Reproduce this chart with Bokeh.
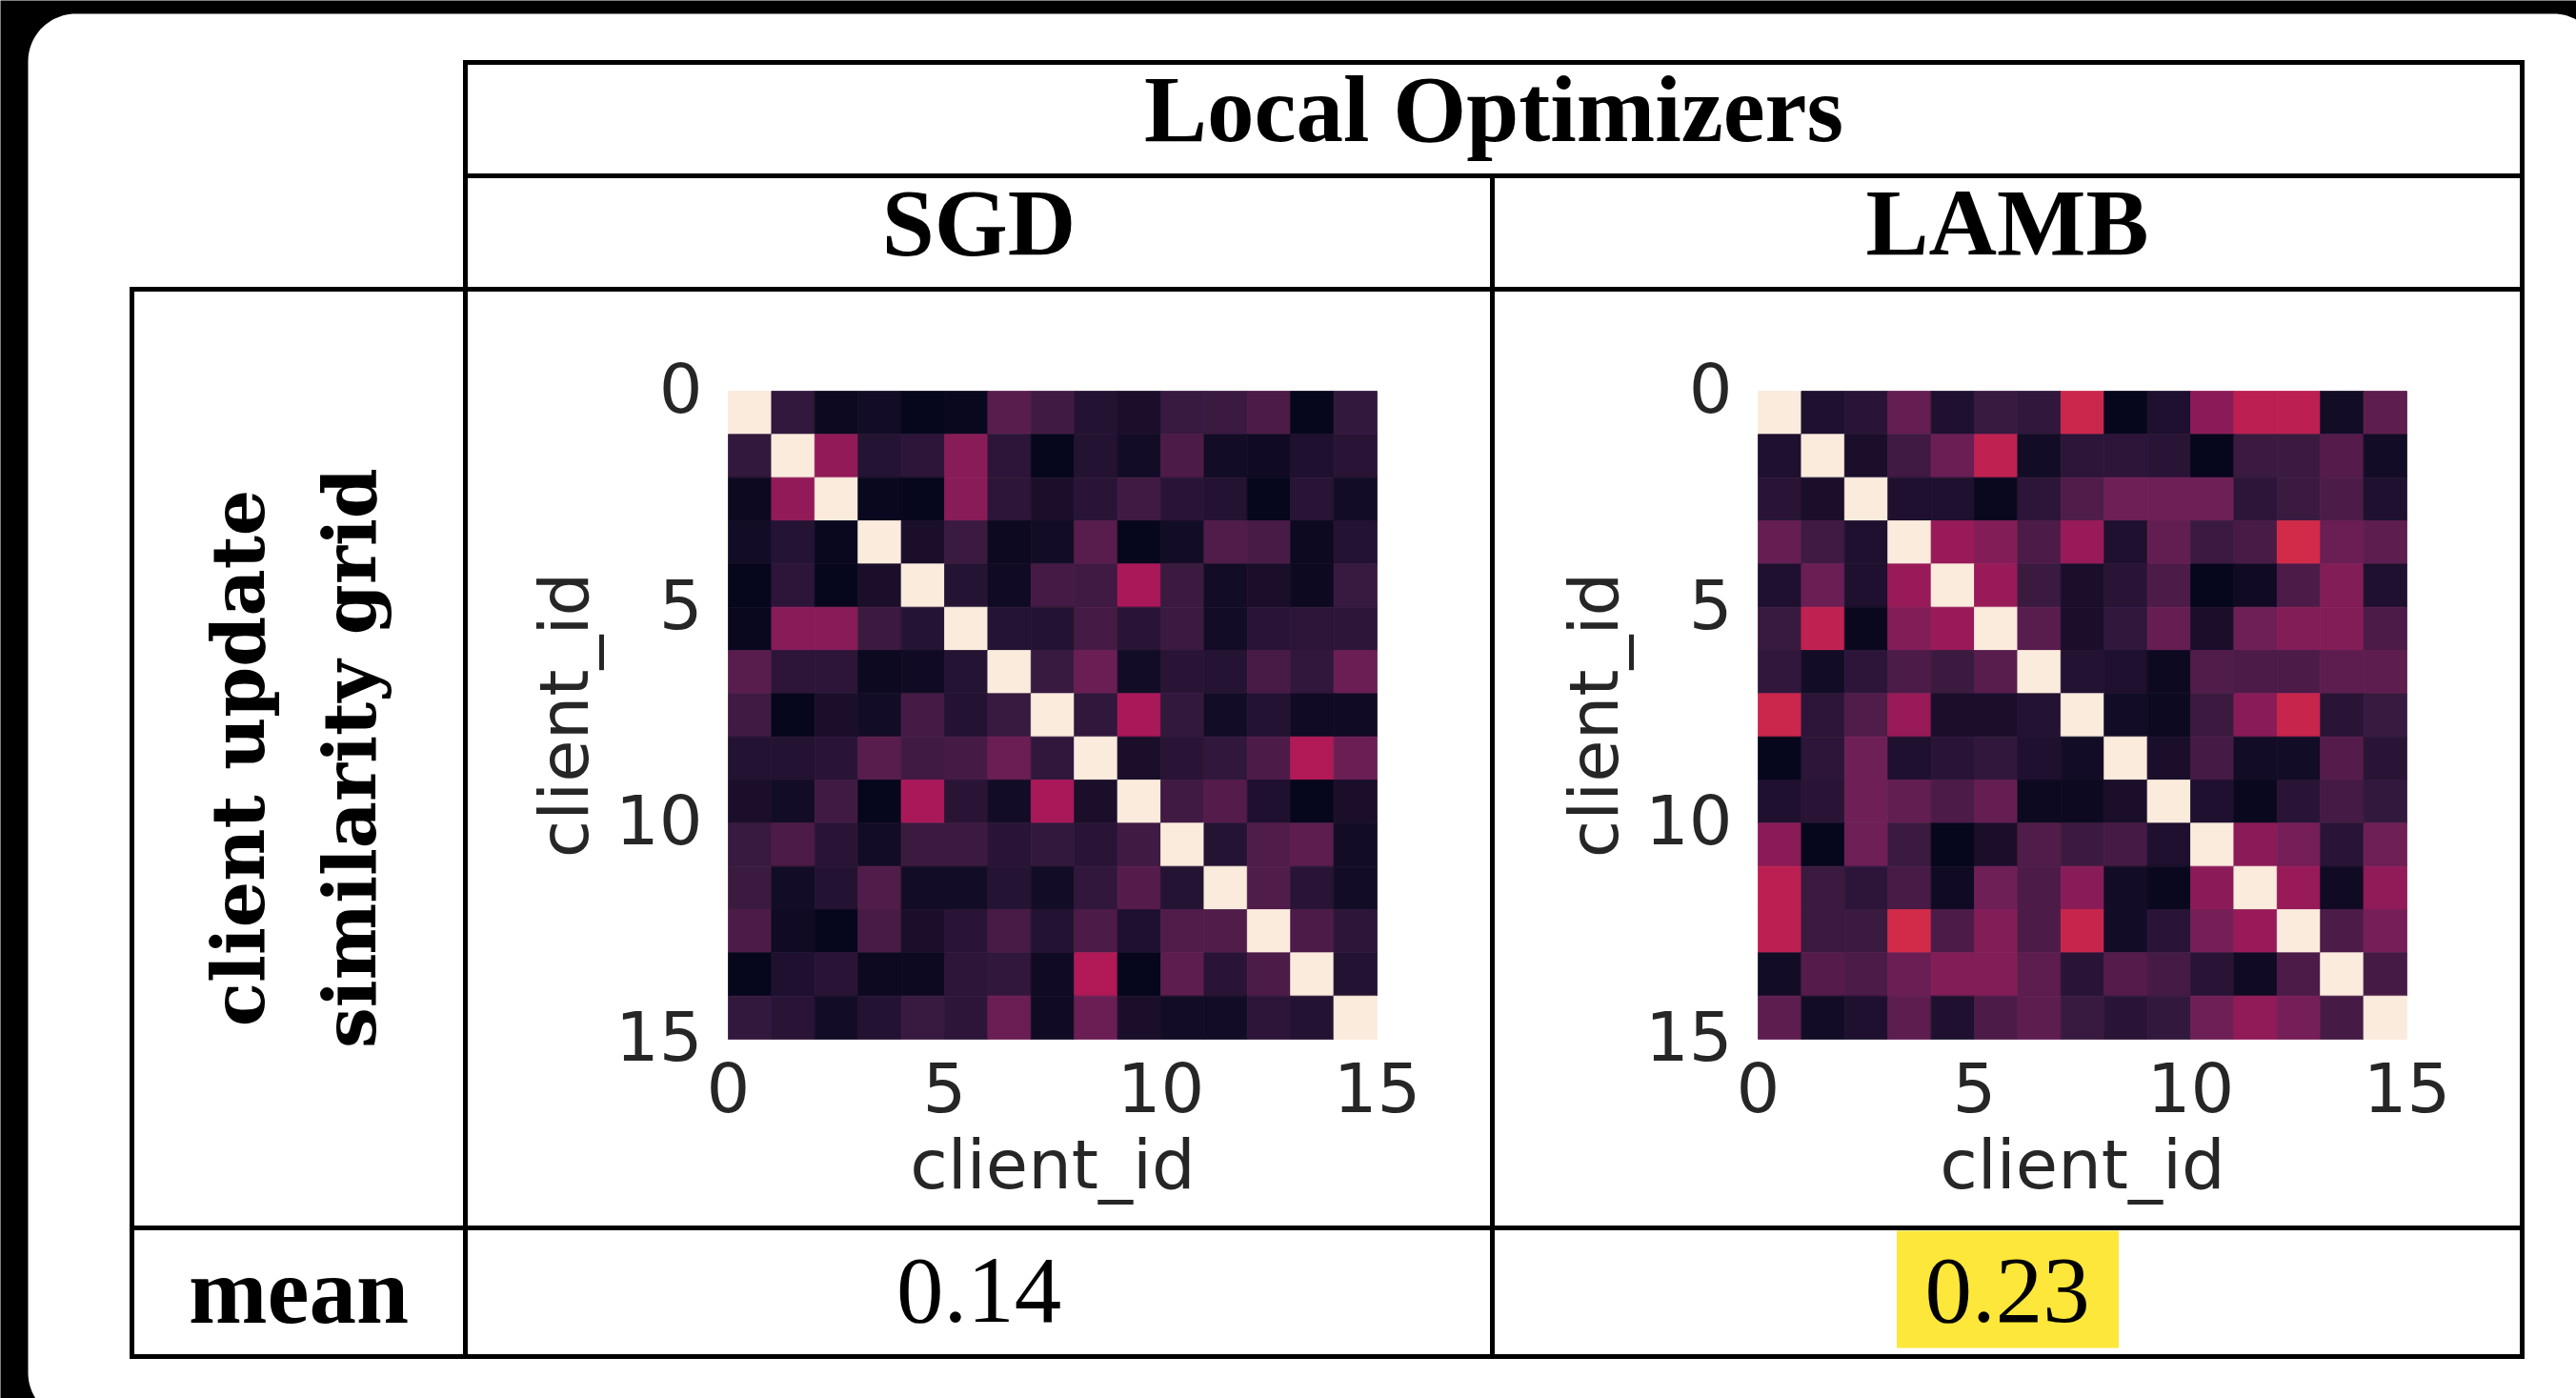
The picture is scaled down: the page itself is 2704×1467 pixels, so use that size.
import numpy as np
from bokeh.plotting import figure
from bokeh.models import Range1d, ColumnDataSource
from bokeh.transform import linear_cmap
from bokeh.core.properties import value
from bokeh.embed import file_html
from bokeh.resources import INLINE

# ---------------------------------------------------------------- data
group_title = "Local Optimizers"
optimizers = ["SGD", "LAMB"]
row_label = ["client update", "similarity grid"]
summary_label = "mean"
mean_labels = ["0.14", "0.23"]
best_mean = [False, True]
axis_label = "client_id"
tick_values = [0, 5, 10, 15]
tick_labels = ["0", "5", "10", "15"]

sgd_similarity = [
    [1.00, 0.14, 0.03, 0.05, 0.01, 0.02, 0.23, 0.17, 0.09, 0.07, 0.15, 0.16, 0.20, 0.01, 0.14],
    [0.14, 1.00, 0.37, 0.10, 0.12, 0.34, 0.12, 0.01, 0.09, 0.05, 0.20, 0.05, 0.04, 0.08, 0.11],
    [0.03, 0.37, 1.00, 0.02, 0.01, 0.34, 0.12, 0.07, 0.11, 0.17, 0.11, 0.09, 0.01, 0.11, 0.05],
    [0.05, 0.10, 0.02, 1.00, 0.07, 0.16, 0.03, 0.05, 0.23, 0.01, 0.05, 0.21, 0.19, 0.03, 0.09],
    [0.01, 0.12, 0.01, 0.07, 1.00, 0.10, 0.04, 0.18, 0.17, 0.42, 0.16, 0.05, 0.07, 0.03, 0.15],
    [0.02, 0.34, 0.34, 0.16, 0.10, 1.00, 0.10, 0.09, 0.18, 0.11, 0.16, 0.05, 0.11, 0.12, 0.12],
    [0.23, 0.12, 0.12, 0.03, 0.04, 0.10, 1.00, 0.15, 0.27, 0.05, 0.11, 0.10, 0.19, 0.13, 0.27],
    [0.17, 0.01, 0.07, 0.05, 0.18, 0.09, 0.15, 1.00, 0.13, 0.42, 0.14, 0.05, 0.09, 0.04, 0.04],
    [0.09, 0.09, 0.11, 0.23, 0.17, 0.18, 0.27, 0.13, 1.00, 0.07, 0.11, 0.13, 0.20, 0.44, 0.27],
    [0.07, 0.05, 0.17, 0.01, 0.42, 0.11, 0.05, 0.42, 0.07, 1.00, 0.17, 0.22, 0.08, 0.01, 0.07],
    [0.15, 0.20, 0.11, 0.05, 0.16, 0.16, 0.11, 0.14, 0.11, 0.17, 1.00, 0.10, 0.21, 0.24, 0.05],
    [0.16, 0.05, 0.09, 0.21, 0.05, 0.05, 0.10, 0.05, 0.13, 0.22, 0.10, 1.00, 0.21, 0.11, 0.05],
    [0.20, 0.04, 0.01, 0.19, 0.07, 0.11, 0.19, 0.09, 0.20, 0.08, 0.21, 0.21, 1.00, 0.20, 0.12],
    [0.01, 0.08, 0.11, 0.03, 0.03, 0.12, 0.13, 0.04, 0.44, 0.01, 0.24, 0.11, 0.20, 1.00, 0.09],
    [0.14, 0.11, 0.05, 0.09, 0.15, 0.12, 0.27, 0.04, 0.27, 0.07, 0.05, 0.05, 0.12, 0.09, 1.00],
]

lamb_similarity = [
    [1.00, 0.08, 0.11, 0.26, 0.08, 0.15, 0.13, 0.51, 0.01, 0.08, 0.35, 0.47, 0.47, 0.05, 0.24],
    [0.08, 1.00, 0.07, 0.17, 0.27, 0.48, 0.05, 0.12, 0.12, 0.11, 0.01, 0.16, 0.16, 0.22, 0.05],
    [0.11, 0.07, 1.00, 0.08, 0.08, 0.02, 0.12, 0.21, 0.28, 0.28, 0.28, 0.12, 0.16, 0.20, 0.08],
    [0.26, 0.17, 0.08, 1.00, 0.38, 0.33, 0.20, 0.38, 0.08, 0.25, 0.16, 0.19, 0.53, 0.27, 0.24],
    [0.08, 0.27, 0.08, 0.38, 1.00, 0.38, 0.16, 0.07, 0.11, 0.20, 0.01, 0.04, 0.20, 0.33, 0.08],
    [0.15, 0.48, 0.02, 0.33, 0.38, 1.00, 0.23, 0.07, 0.13, 0.26, 0.07, 0.28, 0.33, 0.33, 0.20],
    [0.13, 0.05, 0.12, 0.20, 0.16, 0.23, 1.00, 0.09, 0.08, 0.03, 0.21, 0.20, 0.20, 0.24, 0.24],
    [0.51, 0.12, 0.21, 0.38, 0.07, 0.07, 0.09, 1.00, 0.05, 0.03, 0.16, 0.34, 0.50, 0.11, 0.15],
    [0.01, 0.12, 0.28, 0.08, 0.11, 0.13, 0.08, 0.05, 1.00, 0.07, 0.18, 0.05, 0.05, 0.22, 0.11],
    [0.08, 0.11, 0.28, 0.25, 0.20, 0.26, 0.03, 0.03, 0.07, 1.00, 0.08, 0.02, 0.11, 0.18, 0.14],
    [0.35, 0.01, 0.28, 0.16, 0.01, 0.07, 0.21, 0.16, 0.18, 0.08, 1.00, 0.35, 0.30, 0.11, 0.28],
    [0.47, 0.16, 0.12, 0.19, 0.04, 0.28, 0.20, 0.34, 0.05, 0.02, 0.35, 1.00, 0.38, 0.04, 0.36],
    [0.47, 0.16, 0.16, 0.53, 0.20, 0.33, 0.20, 0.50, 0.05, 0.11, 0.30, 0.38, 1.00, 0.20, 0.30],
    [0.05, 0.22, 0.20, 0.27, 0.33, 0.33, 0.24, 0.11, 0.22, 0.18, 0.11, 0.04, 0.20, 1.00, 0.18],
    [0.24, 0.05, 0.08, 0.24, 0.08, 0.20, 0.24, 0.15, 0.11, 0.14, 0.28, 0.36, 0.30, 0.18, 1.00],
]

# ---------------------------------------------------------------- colour map ("rocket")
rocket_stops = [0.0, 1 / 7, 2 / 7, 3 / 7, 4 / 7, 5 / 7, 6 / 7, 1.0]
rocket_hex = ["#03051A", "#35193E", "#701F57", "#AD1759",
              "#E13342", "#F37651", "#F6B48F", "#FAEBDD"]


def build_palette(stops, colors, n=256):
    rgb = np.array([[int(c[i:i + 2], 16) for i in (1, 3, 5)] for c in colors], dtype=float)
    t = np.linspace(0, 1, n)
    chans = [np.interp(t, stops, rgb[:, k]) for k in range(3)]
    return ["#%02x%02x%02x" % tuple(int(round(ch[i])) for ch in chans) for i in range(n)]


rocket = build_palette(rocket_stops, rocket_hex)

# ---------------------------------------------------------------- page geometry (pixels)
W, H = 2704, 1467
col_x = [138, 488, 1566, 2647]          # vertical rules
row_y = [65, 184, 303, 1288, 1423]      # horizontal rules
panel_left = [764, 1845]                # heatmap frames
panel_top = 410
panel_w, panel_h = 681, 680
n_clients = len(sgd_similarity)

p = figure(width=W, height=H, x_range=Range1d(0, W), y_range=Range1d(H, 0),
           output_backend="svg", toolbar_location=None, min_border=0,
           x_axis_location=None, y_axis_location=None,
           background_fill_color="black", border_fill_color="black",
           outline_line_color=None)
p.grid.visible = False


# white card with rounded corners
def rounded_box(x0, y0, x1, y1, r, n=24):
    xs, ys = [], []
    corners = [(x1 - r, y0 + r, -np.pi / 2, 0), (x1 - r, y1 - r, 0, np.pi / 2),
               (x0 + r, y1 - r, np.pi / 2, np.pi), (x0 + r, y0 + r, np.pi, 1.5 * np.pi)]
    for cx, cy, a0, a1 in corners:
        a = np.linspace(a0, a1, n)
        xs.extend(cx + r * np.cos(a))
        ys.extend(cy + r * np.sin(a))
    return xs, ys


cx, cy = rounded_box(29, 14, 2730, 1490, 50)
p.patch(cx, cy, fill_color="white", line_color=None)


# ---------------------------------------------------------------- heatmaps
def pixel_range(px0, span, total, flip=False):
    k = n_clients / span
    if flip:
        return Range1d((total - px0) * k, -px0 * k)
    return Range1d(-px0 * k, (total - px0) * k)


tick_font = value("DejaVu Sans")
tick_style = dict(text_font=tick_font, text_font_size="72px", text_color="#262626")
for idx, (name, mat) in enumerate(zip(optimizers, [sgd_similarity, lamb_similarity])):
    xr, yr = name + "_x", name + "_y"
    p.extra_x_ranges[xr] = pixel_range(panel_left[idx], panel_w, W)
    p.extra_y_ranges[yr] = pixel_range(panel_top, panel_h, H, flip=True)

    m = np.array(mat)
    ii, jj = np.meshgrid(np.arange(n_clients), np.arange(n_clients), indexing="ij")
    src = ColumnDataSource(dict(x=(jj + 0.5).ravel(), y=(ii + 0.5).ravel(), v=m.ravel()))
    cmap = linear_cmap("v", rocket, 0.0, 1.0)
    p.rect(x="x", y="y", width=1, height=1, source=src, fill_color=cmap,
           line_color=cmap, line_width=0.8, x_range_name=xr, y_range_name=yr)

    # tick labels
    p.text(x=tick_values, y=[n_clients] * len(tick_values), text=tick_labels,
           x_range_name=xr, y_range_name=yr, y_offset=50,
           text_align="center", text_baseline="alphabetic", **tick_style)
    p.text(x=[0] * len(tick_values), y=tick_values, text=tick_labels,
           x_range_name=xr, y_range_name=yr, x_offset=-27, y_offset=-4,
           text_align="right", text_baseline="middle", **tick_style)
    # axis titles
    p.text(x=[n_clients / 2], y=[n_clients], text=[axis_label],
           x_range_name=xr, y_range_name=yr, y_offset=131,
           text_align="center", text_baseline="alphabetic", **tick_style)
    p.text(x=[0], y=[n_clients / 2], text=[axis_label], angle=np.pi / 2,
           x_range_name=xr, y_range_name=yr, x_offset=-173,
           text_align="center", text_baseline="alphabetic", **tick_style)

# ---------------------------------------------------------------- table
col_mid = [(col_x[1] + col_x[2]) / 2, (col_x[2] + col_x[3]) / 2]

# highlight behind the best mean
for mid, best in zip(col_mid, best_mean):
    if best:
        p.quad(left=mid - 116, right=mid + 117, top=row_y[3] + 3, bottom=row_y[4] - 9,
               fill_color="#FDE73A", line_color=None)

hx0 = [col_x[1], col_x[1], col_x[0], col_x[0], col_x[0]]
hx1 = [col_x[3]] * 5
vx = [col_x[0], col_x[1], col_x[2], col_x[3]]
vy0 = [row_y[2], row_y[0], row_y[1], row_y[0]]
vy1 = [row_y[4]] * 4
p.segment(x0=hx0 + vx, y0=row_y + vy0, x1=hx1 + vx, y1=row_y + vy1,
          line_color="black", line_width=5, line_cap="square")

serif = value("Liberation Serif")
head_style = dict(text_align="center", text_baseline="alphabetic", text_font=serif,
                  text_font_size="99px", text_color="black")
p.text(x=col_mid, y=[1354, 1354], text=mean_labels, **head_style)
p.text(x=[(col_x[0] + col_x[1]) / 2], y=[1354], text=[summary_label],
       text_font_style="bold", **head_style)
p.text(x=col_mid, y=[233, 233], text=optimizers, text_font_style="bold", **head_style)
p.text(x=[(col_x[1] + col_x[3]) / 2], y=[114], text=[group_title],
       text_font_style="bold", **head_style)
p.text(x=[250, 367], y=[795, 795], text=row_label, angle=np.pi / 2,
       text_align="center", text_baseline="alphabetic", text_font=value("DejaVu Serif"),
       text_font_style="bold", text_font_size="76px", text_color="black")

open("out.html", "w").write(file_html(p, INLINE))
